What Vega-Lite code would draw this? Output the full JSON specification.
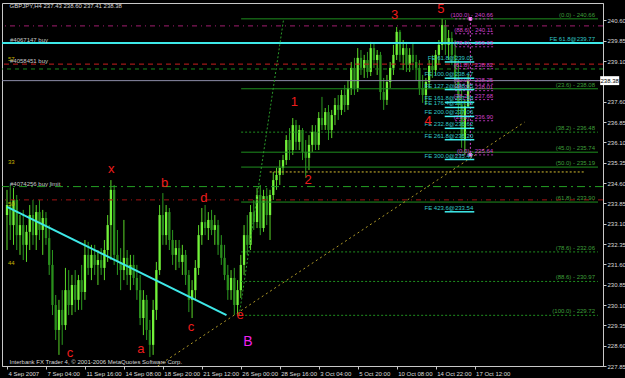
{
  "$schema": "https://vega.github.io/schema/vega-lite/v6.json",
  "width": 601,
  "height": 363,
  "autosize": {"type": "none"},
  "padding": {"left": 2, "top": 3, "right": 22, "bottom": 12},
  "background": "#000000",
  "config": {
    "view": {"stroke": "#c8c8c8", "strokeWidth": 1},
    "font": "Liberation Sans, sans-serif"
  },
  "datasets": {
    "candles": [
      {"i":0,"o":233.42,"h":234.35,"l":232.13,"c":233.79},
      {"i":1,"o":233.79,"h":234.53,"l":232.50,"c":233.05},
      {"i":2,"o":233.05,"h":234.42,"l":232.32,"c":233.98},
      {"i":3,"o":233.98,"h":234.16,"l":232.13,"c":232.68},
      {"i":4,"o":232.68,"h":233.42,"l":231.95,"c":233.05},
      {"i":5,"o":233.05,"h":233.61,"l":231.76,"c":232.32},
      {"i":6,"o":232.32,"h":233.05,"l":231.69,"c":232.80},
      {"i":7,"o":232.80,"h":233.79,"l":232.13,"c":233.42},
      {"i":8,"o":233.42,"h":233.98,"l":232.32,"c":232.68},
      {"i":9,"o":232.68,"h":233.79,"l":232.13,"c":233.53},
      {"i":10,"o":233.53,"h":233.98,"l":232.50,"c":232.87},
      {"i":11,"o":232.87,"h":233.61,"l":231.95,"c":233.31},
      {"i":12,"o":233.31,"h":233.53,"l":232.32,"c":232.57},
      {"i":13,"o":232.57,"h":233.05,"l":231.21,"c":231.58},
      {"i":14,"o":231.58,"h":232.13,"l":229.73,"c":230.10},
      {"i":15,"o":230.10,"h":230.47,"l":228.81,"c":229.18},
      {"i":16,"o":229.18,"h":230.29,"l":228.26,"c":229.92},
      {"i":17,"o":229.92,"h":230.65,"l":228.63,"c":229.36},
      {"i":18,"o":229.36,"h":231.47,"l":229.18,"c":230.65},
      {"i":19,"o":230.65,"h":231.39,"l":229.73,"c":230.10},
      {"i":20,"o":230.10,"h":231.21,"l":229.73,"c":230.84},
      {"i":21,"o":230.84,"h":231.39,"l":229.84,"c":230.29},
      {"i":22,"o":230.29,"h":231.21,"l":229.92,"c":231.02},
      {"i":23,"o":231.02,"h":231.58,"l":229.92,"c":230.58},
      {"i":24,"o":230.58,"h":232.50,"l":230.29,"c":231.95},
      {"i":25,"o":231.95,"h":232.43,"l":231.21,"c":231.47},
      {"i":26,"o":231.47,"h":232.32,"l":231.02,"c":231.95},
      {"i":27,"o":231.95,"h":232.32,"l":231.21,"c":231.58},
      {"i":28,"o":231.58,"h":232.13,"l":230.84,"c":231.76},
      {"i":29,"o":231.76,"h":232.20,"l":231.21,"c":231.47},
      {"i":30,"o":231.47,"h":232.50,"l":231.02,"c":232.13},
      {"i":31,"o":232.13,"h":233.42,"l":231.69,"c":233.05},
      {"i":32,"o":233.05,"h":234.71,"l":231.76,"c":234.35},
      {"i":33,"o":234.35,"h":234.53,"l":231.58,"c":231.95},
      {"i":34,"o":231.95,"h":232.87,"l":231.21,"c":231.69},
      {"i":35,"o":231.69,"h":232.20,"l":230.65,"c":231.39},
      {"i":36,"o":231.39,"h":233.24,"l":231.02,"c":231.84},
      {"i":37,"o":231.84,"h":232.13,"l":230.84,"c":231.21},
      {"i":38,"o":231.21,"h":231.95,"l":230.65,"c":231.58},
      {"i":39,"o":231.58,"h":231.95,"l":230.84,"c":231.10},
      {"i":40,"o":231.10,"h":231.58,"l":230.29,"c":230.65},
      {"i":41,"o":230.65,"h":231.21,"l":229.36,"c":229.62},
      {"i":42,"o":229.62,"h":230.65,"l":228.99,"c":230.29},
      {"i":43,"o":230.29,"h":230.47,"l":228.81,"c":229.18},
      {"i":44,"o":229.18,"h":229.55,"l":228.18,"c":228.63},
      {"i":45,"o":228.63,"h":230.29,"l":228.26,"c":229.92},
      {"i":46,"o":229.92,"h":231.69,"l":229.55,"c":231.39},
      {"i":47,"o":231.39,"h":233.79,"l":231.21,"c":233.42},
      {"i":48,"o":233.42,"h":234.23,"l":232.32,"c":232.68},
      {"i":49,"o":232.68,"h":233.79,"l":232.32,"c":233.53},
      {"i":50,"o":233.53,"h":233.68,"l":232.13,"c":232.50},
      {"i":51,"o":232.50,"h":232.87,"l":231.58,"c":231.95},
      {"i":52,"o":231.95,"h":232.50,"l":231.39,"c":232.20},
      {"i":53,"o":232.20,"h":232.50,"l":231.47,"c":231.69},
      {"i":54,"o":231.69,"h":232.32,"l":231.21,"c":231.95},
      {"i":55,"o":231.95,"h":232.13,"l":230.84,"c":231.21},
      {"i":56,"o":231.21,"h":231.39,"l":229.84,"c":230.29},
      {"i":57,"o":230.29,"h":231.02,"l":229.62,"c":230.65},
      {"i":58,"o":230.65,"h":231.76,"l":230.29,"c":231.47},
      {"i":59,"o":231.47,"h":233.05,"l":231.21,"c":232.68},
      {"i":60,"o":232.68,"h":233.68,"l":232.32,"c":233.16},
      {"i":61,"o":233.16,"h":233.79,"l":232.68,"c":232.94},
      {"i":62,"o":232.94,"h":233.53,"l":232.50,"c":233.24},
      {"i":63,"o":233.24,"h":233.61,"l":232.68,"c":232.87},
      {"i":64,"o":232.87,"h":233.42,"l":232.32,"c":233.05},
      {"i":65,"o":233.05,"h":233.24,"l":231.95,"c":232.32},
      {"i":66,"o":232.32,"h":232.68,"l":231.58,"c":231.84},
      {"i":67,"o":231.84,"h":232.32,"l":231.02,"c":231.21},
      {"i":68,"o":231.21,"h":231.58,"l":230.29,"c":230.65},
      {"i":69,"o":230.65,"h":231.39,"l":230.29,"c":231.10},
      {"i":70,"o":231.10,"h":231.47,"l":229.73,"c":230.10},
      {"i":71,"o":230.10,"h":231.02,"l":229.70,"c":230.65},
      {"i":72,"o":230.65,"h":231.95,"l":230.36,"c":231.58},
      {"i":73,"o":231.58,"h":233.05,"l":231.21,"c":232.68},
      {"i":74,"o":232.68,"h":233.42,"l":231.95,"c":232.32},
      {"i":75,"o":232.32,"h":233.79,"l":232.13,"c":233.53},
      {"i":76,"o":233.53,"h":233.98,"l":232.87,"c":233.16},
      {"i":77,"o":233.16,"h":234.42,"l":232.94,"c":234.16},
      {"i":78,"o":234.16,"h":234.53,"l":232.68,"c":232.94},
      {"i":79,"o":232.94,"h":234.35,"l":232.80,"c":234.12},
      {"i":80,"o":234.12,"h":234.42,"l":233.05,"c":233.42},
      {"i":81,"o":233.42,"h":234.35,"l":232.50,"c":234.16},
      {"i":82,"o":234.16,"h":235.01,"l":233.98,"c":234.71},
      {"i":83,"o":234.71,"h":235.16,"l":234.35,"c":234.90},
      {"i":84,"o":234.90,"h":235.45,"l":234.53,"c":235.16},
      {"i":85,"o":235.16,"h":235.64,"l":234.90,"c":235.45},
      {"i":86,"o":235.45,"h":236.37,"l":235.27,"c":236.19},
      {"i":87,"o":236.19,"h":236.63,"l":235.45,"c":235.82},
      {"i":88,"o":235.82,"h":237.00,"l":235.64,"c":236.74},
      {"i":89,"o":236.74,"h":236.93,"l":235.82,"c":236.12},
      {"i":90,"o":236.12,"h":236.74,"l":235.82,"c":236.56},
      {"i":91,"o":236.56,"h":236.63,"l":235.45,"c":235.75},
      {"i":92,"o":235.75,"h":236.19,"l":234.79,"c":235.53},
      {"i":93,"o":235.53,"h":236.37,"l":235.08,"c":236.01},
      {"i":94,"o":236.01,"h":236.74,"l":235.75,"c":236.49},
      {"i":95,"o":236.49,"h":236.74,"l":235.82,"c":236.01},
      {"i":96,"o":236.01,"h":237.22,"l":235.82,"c":237.00},
      {"i":97,"o":237.00,"h":237.78,"l":236.56,"c":236.74},
      {"i":98,"o":236.74,"h":237.37,"l":236.56,"c":237.22},
      {"i":99,"o":237.22,"h":237.48,"l":236.19,"c":236.56},
      {"i":100,"o":236.56,"h":237.30,"l":236.26,"c":237.11},
      {"i":101,"o":237.11,"h":237.74,"l":236.74,"c":237.48},
      {"i":102,"o":237.48,"h":237.85,"l":236.93,"c":237.30},
      {"i":103,"o":237.30,"h":238.04,"l":237.11,"c":237.85},
      {"i":104,"o":237.85,"h":238.22,"l":237.22,"c":237.48},
      {"i":105,"o":237.48,"h":238.40,"l":237.30,"c":238.11},
      {"i":106,"o":238.11,"h":239.07,"l":237.85,"c":238.85},
      {"i":107,"o":238.85,"h":239.22,"l":237.85,"c":238.11},
      {"i":108,"o":238.11,"h":239.58,"l":237.96,"c":239.22},
      {"i":109,"o":239.22,"h":239.51,"l":238.59,"c":238.85},
      {"i":110,"o":238.85,"h":239.33,"l":238.48,"c":239.14},
      {"i":111,"o":239.14,"h":239.44,"l":238.48,"c":238.70},
      {"i":112,"o":238.70,"h":239.81,"l":238.55,"c":239.58},
      {"i":113,"o":239.58,"h":239.77,"l":238.85,"c":239.14},
      {"i":114,"o":239.14,"h":239.51,"l":238.59,"c":239.33},
      {"i":115,"o":239.33,"h":239.44,"l":237.67,"c":237.96},
      {"i":116,"o":237.96,"h":238.48,"l":237.30,"c":237.67},
      {"i":117,"o":237.67,"h":238.59,"l":237.48,"c":238.33},
      {"i":118,"o":238.33,"h":239.07,"l":238.11,"c":238.85},
      {"i":119,"o":238.85,"h":239.70,"l":238.59,"c":239.33},
      {"i":120,"o":239.33,"h":240.36,"l":239.14,"c":240.18},
      {"i":121,"o":240.18,"h":240.25,"l":239.07,"c":239.33},
      {"i":122,"o":239.33,"h":239.88,"l":238.77,"c":239.58},
      {"i":123,"o":239.58,"h":239.81,"l":238.70,"c":238.96},
      {"i":124,"o":238.96,"h":239.58,"l":238.70,"c":239.33},
      {"i":125,"o":239.33,"h":239.77,"l":238.77,"c":239.07},
      {"i":126,"o":239.07,"h":239.33,"l":238.40,"c":238.85},
      {"i":127,"o":238.85,"h":239.14,"l":237.85,"c":238.11},
      {"i":128,"o":238.11,"h":238.59,"l":237.56,"c":237.85},
      {"i":129,"o":237.85,"h":238.48,"l":237.48,"c":238.33},
      {"i":130,"o":238.33,"h":239.14,"l":238.11,"c":238.92},
      {"i":131,"o":238.92,"h":239.33,"l":238.48,"c":238.77},
      {"i":132,"o":238.77,"h":239.51,"l":238.59,"c":239.33},
      {"i":133,"o":239.33,"h":239.88,"l":238.96,"c":239.70},
      {"i":134,"o":239.70,"h":240.66,"l":239.51,"c":240.43},
      {"i":135,"o":240.43,"h":240.62,"l":239.33,"c":239.70},
      {"i":136,"o":239.70,"h":240.25,"l":239.14,"c":239.95},
      {"i":137,"o":239.95,"h":240.18,"l":238.96,"c":239.33},
      {"i":138,"o":239.33,"h":239.88,"l":238.04,"c":238.40},
      {"i":139,"o":238.40,"h":239.14,"l":237.11,"c":237.48},
      {"i":140,"o":237.48,"h":238.04,"l":235.90,"c":236.19},
      {"i":141,"o":236.19,"h":237.67,"l":235.64,"c":237.43},
      {"i":142,"o":237.43,"h":238.60,"l":237.41,"c":238.38}
    ],
    "levels": [
      {"p":240.40,"k":"mag"},
      {"p":239.77,"k":"cyan"},
      {"p":238.99,"k":"red"},
      {"p":238.81,"k":"grn"},
      {"p":238.38,"k":"bid"},
      {"p":234.47,"k":"grndd"},
      {"p":233.98,"k":"red2"}
    ],
    "fibo": [
      {"p":240.66,"t":"(0.0) - 240.66","d":"s"},
      {"p":238.08,"t":"(23.6) - 238.08","d":"s"},
      {"p":236.48,"t":"(38.2) - 236.48","d":"d"},
      {"p":235.74,"t":"(45.0) - 235.74","d":"s"},
      {"p":235.19,"t":"(50.0) - 235.19","d":"s"},
      {"p":233.90,"t":"(61.8) - 233.90","d":"s"},
      {"p":232.06,"t":"(78.6) - 232.06","d":"d"},
      {"p":230.97,"t":"(88.6) - 230.97","d":"d"},
      {"p":229.72,"t":"(100.0) - 229.72","d":"d"}
    ],
    "fe": [
      {"p":239.07,"t":"FE 61.8@239.05"},
      {"p":238.47,"t":"FE 100.0@238.47"},
      {"p":238.05,"t":"FE 127.2@238.05"},
      {"p":237.58,"t":"FE 161.8@237.58"},
      {"p":237.39,"t":"FE 176.4@237.39"},
      {"p":237.06,"t":"FE 200.0@237.06"},
      {"p":236.62,"t":"FE 232.8@236.62"},
      {"p":236.20,"t":"FE 261.8@236.20"},
      {"p":235.47,"t":"FE 300.0@235.47"},
      {"p":233.54,"t":"FE 423.6@233.54"}
    ],
    "magfib": [
      {"p":240.66,"t":"(100.0) - 240.66"},
      {"p":240.11,"t":"(88.6) - 240.11"},
      {"p":239.63,"t":"(78.6) - 239.63"},
      {"p":238.82,"t":"(61.8) - 238.82"},
      {"p":238.25,"t":"(50.0) - 238.25"},
      {"p":238.01,"t":"(45.0) - 238.01"},
      {"p":237.68,"t":"(38.2) - 237.68"},
      {"p":236.90,"t":"(23.6) - 236.90"},
      {"p":235.64,"t":"(0.0) - 235.64"}
    ],
    "diag": [
      {"g":"cy","x":0,"p":233.72},
      {"g":"cy","x":67.6,"p":229.73},
      {"g":"yl","x":46.4,"p":227.85},
      {"g":"yl","x":159.4,"p":236.85},
      {"g":"fg","x":71.5,"p":229.72},
      {"g":"fg","x":85.2,"p":240.66},
      {"g":"yh","x":80.9,"p":235.01},
      {"g":"yh","x":177.6,"p":235.01},
      {"g":"mv","x":142.7,"p":240.66},
      {"g":"mv","x":142.7,"p":235.64}
    ],
    "orders": [
      {"p":239.77,"t":"#4067147 buy"},
      {"p":238.99,"t":"#4058451 buy"},
      {"p":234.47,"t":"#4074256 buy limit"}
    ],
    "tags": [
      {"p":239.07,"t":"57"},
      {"p":235.27,"t":"33"},
      {"p":233.72,"t":"50"},
      {"p":231.54,"t":"44"}
    ],
    "waves": [
      {"x":32.1,"p":235.12,"t":"x"},
      {"x":48.5,"p":234.60,"t":"b"},
      {"x":60.6,"p":234.05,"t":"d"},
      {"x":19.4,"p":228.33,"t":"c"},
      {"x":41.2,"p":228.48,"t":"a"},
      {"x":56.7,"p":229.29,"t":"c"},
      {"x":71.8,"p":229.73,"t":"e"},
      {"x":88.5,"p":237.59,"t":"1"},
      {"x":92.7,"p":234.71,"t":"2"},
      {"x":119.4,"p":240.80,"t":"3"},
      {"x":129.7,"p":236.89,"t":"4"},
      {"x":133.6,"p":241.02,"t":"5"}
    ],
    "wavesB": [{"x":74.2,"p":228.74,"t":"B"}],
    "notes": [
      {"x":0.8,"p":241.12,"t":"GBPJPY,H4  237.43 238.60 237.41 238.38"},
      {"x":0.8,"p":228.0,"t":"Interbank FX Trader 4, © 2001-2006 MetaQuotes Software Corp."}
    ],
    "last": [{"p":238.38,"t":"238.38"}]
  },
  "layer": [
    {
      "data": {"name": "candles"},
      "mark": {"type": "rule", "strokeWidth": 1},
      "encoding": {
        "x": {"field": "i", "type": "quantitative", "scale": {"domain": [0, 182], "nice": false, "zero": false},
          "axis": {"values": [0,12,24,36,48,60,72,84,96,108,120,132,144], "tickCount": 40, "title": null, "grid": false,
            "labelExpr": "['4 Sep 2007','7 Sep 04:00','11 Sep 16:00','14 Sep 08:00','18 Sep 20:00','21 Sep 12:00','26 Sep 00:00','28 Sep 16:00','3 Oct 04:00','5 Oct 20:00','10 Oct 08:00','14 Oct 22:00','17 Oct 12:00'][round(datum.value/12)]",
            "labelAlign": "left", "labelBaseline": "top", "labelPadding": 1, "labelOffset": 1, "tickSize": 3,
            "tickColor": "#c8c8c8", "domainColor": "#c8c8c8", "labelColor": "#dcdcdc",
            "labelFontSize": 6, "labelOverlap": false, "labelFlush": false, "labelBound": false}},
        "y": {"field": "l", "type": "quantitative", "scale": {"domain": [227.85, 241.245], "nice": false, "zero": false},
          "axis": {"orient": "right", "values": [227.85,228.6,229.35,230.1,230.85,231.6,232.35,233.1,233.85,234.6,235.35,236.1,236.85,237.6,239.1,239.85,240.6],
            "tickCount": 40, "format": ".2f", "title": null, "grid": false, "tickSize": 3, "labelPadding": 1,
            "tickColor": "#c8c8c8", "domainColor": "#c8c8c8", "labelColor": "#dcdcdc",
            "labelFontSize": 6, "labelOverlap": false, "labelFlush": false, "labelBound": false}},
        "y2": {"field": "h"},
        "color": {"condition": {"test": "datum.c >= datum.o", "value": "#5ad628"}, "value": "#2c9a20"}
      }
    },
    {
      "data": {"name": "candles"},
      "mark": {"type": "bar", "width": 2.3},
      "encoding": {
        "x": {"field": "i", "type": "quantitative", "scale": {"domain": [0, 182], "nice": false, "zero": false}},
        "y": {"field": "o", "type": "quantitative", "scale": {"domain": [227.85, 241.245], "nice": false, "zero": false}},
        "y2": {"field": "c"},
        "color": {"condition": {"test": "datum.c >= datum.o", "value": "#72f23a"}, "value": "#2a8f1c"}
      }
    },
    {
      "data": {"name": "fibo"},
      "transform": [{"filter": "datum.d == 's'"}],
      "mark": {"type": "rule", "color": "#1f8f1f", "strokeWidth": 1},
      "encoding": {
        "x": {"datum": 72.1, "type": "quantitative", "scale": {"domain": [0, 182], "nice": false, "zero": false}},
        "x2": {"datum": 182},
        "y": {"field": "p", "type": "quantitative", "scale": {"domain": [227.85, 241.245], "nice": false, "zero": false}}
      }
    },
    {
      "data": {"name": "fibo"},
      "transform": [{"filter": "datum.d == 'd'"}],
      "mark": {"type": "rule", "color": "#1f8f1f", "strokeWidth": 1, "strokeDash": [2, 2]},
      "encoding": {
        "x": {"datum": 72.1, "type": "quantitative", "scale": {"domain": [0, 182], "nice": false, "zero": false}},
        "x2": {"datum": 182},
        "y": {"field": "p", "type": "quantitative", "scale": {"domain": [227.85, 241.245], "nice": false, "zero": false}}
      }
    },
    {
      "data": {"name": "fibo"},
      "mark": {"type": "text", "align": "right", "baseline": "bottom", "dx": -3, "dy": -1, "fontSize": 6, "color": "#3f9f3a"},
      "encoding": {
        "x": {"datum": 182, "type": "quantitative", "scale": {"domain": [0, 182], "nice": false, "zero": false}},
        "y": {"field": "p", "type": "quantitative", "scale": {"domain": [227.85, 241.245], "nice": false, "zero": false}},
        "text": {"field": "t"}
      }
    },
    {
      "data": {"name": "levels"},
      "transform": [{"filter": "datum.k == 'mag'"}],
      "mark": {"type": "rule", "color": "#a01c6e", "strokeWidth": 1, "strokeDash": [5, 4, 1, 4]},
      "encoding": {"y": {"field": "p", "type": "quantitative", "scale": {"domain": [227.85, 241.245], "nice": false, "zero": false}}}
    },
    {
      "data": {"name": "levels"},
      "transform": [{"filter": "datum.k == 'red'"}],
      "mark": {"type": "rule", "color": "#c81e1e", "strokeWidth": 1, "strokeDash": [5, 4]},
      "encoding": {"y": {"field": "p", "type": "quantitative", "scale": {"domain": [227.85, 241.245], "nice": false, "zero": false}}}
    },
    {
      "data": {"name": "levels"},
      "transform": [{"filter": "datum.k == 'grn'"}],
      "mark": {"type": "rule", "color": "#1c861c", "strokeWidth": 1, "strokeDash": [4, 4]},
      "encoding": {"y": {"field": "p", "type": "quantitative", "scale": {"domain": [227.85, 241.245], "nice": false, "zero": false}}}
    },
    {
      "data": {"name": "levels"},
      "transform": [{"filter": "datum.k == 'grndd'"}],
      "mark": {"type": "rule", "color": "#24a024", "strokeWidth": 1, "strokeDash": [8, 4, 2, 4]},
      "encoding": {"y": {"field": "p", "type": "quantitative", "scale": {"domain": [227.85, 241.245], "nice": false, "zero": false}}}
    },
    {
      "data": {"name": "levels"},
      "transform": [{"filter": "datum.k == 'red2'"}],
      "mark": {"type": "rule", "color": "#a01414", "strokeWidth": 1, "strokeDash": [5, 4, 1, 4]},
      "encoding": {"y": {"field": "p", "type": "quantitative", "scale": {"domain": [227.85, 241.245], "nice": false, "zero": false}}}
    },
    {
      "data": {"name": "levels"},
      "transform": [{"filter": "datum.k == 'bid'"}],
      "mark": {"type": "rule", "color": "#8c8ca8", "strokeWidth": 1},
      "encoding": {"y": {"field": "p", "type": "quantitative", "scale": {"domain": [227.85, 241.245], "nice": false, "zero": false}}}
    },
    {
      "data": {"name": "levels"},
      "transform": [{"filter": "datum.k == 'cyan'"}],
      "mark": {"type": "rule", "color": "#3ee8e8", "strokeWidth": 2},
      "encoding": {"y": {"field": "p", "type": "quantitative", "scale": {"domain": [227.85, 241.245], "nice": false, "zero": false}}}
    },
    {
      "data": {"name": "diag"},
      "transform": [{"filter": "datum.g == 'cy'"}],
      "mark": {"type": "line", "color": "#3ee8e8", "strokeWidth": 2},
      "encoding": {
        "x": {"field": "x", "type": "quantitative", "scale": {"domain": [0, 182], "nice": false, "zero": false}},
        "y": {"field": "p", "type": "quantitative", "scale": {"domain": [227.85, 241.245], "nice": false, "zero": false}}
      }
    },
    {
      "data": {"name": "diag"},
      "transform": [{"filter": "datum.g == 'yl'"}],
      "mark": {"type": "line", "color": "#b09a28", "strokeWidth": 1, "strokeDash": [2, 3]},
      "encoding": {
        "x": {"field": "x", "type": "quantitative", "scale": {"domain": [0, 182], "nice": false, "zero": false}},
        "y": {"field": "p", "type": "quantitative", "scale": {"domain": [227.85, 241.245], "nice": false, "zero": false}}
      }
    },
    {
      "data": {"name": "diag"},
      "transform": [{"filter": "datum.g == 'yh'"}],
      "mark": {"type": "line", "color": "#d8c030", "strokeWidth": 1, "strokeDash": [2, 2]},
      "encoding": {
        "x": {"field": "x", "type": "quantitative", "scale": {"domain": [0, 182], "nice": false, "zero": false}},
        "y": {"field": "p", "type": "quantitative", "scale": {"domain": [227.85, 241.245], "nice": false, "zero": false}}
      }
    },
    {
      "data": {"name": "diag"},
      "transform": [{"filter": "datum.g == 'fg'"}],
      "mark": {"type": "line", "color": "#2a9a2a", "strokeWidth": 1, "strokeDash": [2, 2]},
      "encoding": {
        "x": {"field": "x", "type": "quantitative", "scale": {"domain": [0, 182], "nice": false, "zero": false}},
        "y": {"field": "p", "type": "quantitative", "scale": {"domain": [227.85, 241.245], "nice": false, "zero": false}}
      }
    },
    {
      "data": {"name": "diag"},
      "transform": [{"filter": "datum.g == 'mv'"}],
      "mark": {"type": "line", "color": "#cc44cc", "strokeWidth": 1, "strokeDash": [2, 2]},
      "encoding": {
        "x": {"field": "x", "type": "quantitative", "scale": {"domain": [0, 182], "nice": false, "zero": false}},
        "y": {"field": "p", "type": "quantitative", "scale": {"domain": [227.85, 241.245], "nice": false, "zero": false}}
      }
    },
    {
      "data": {"name": "diag"},
      "transform": [{"filter": "datum.g == 'mv'"}],
      "mark": {"type": "point", "shape": "square", "filled": true, "size": 12, "color": "#ff88ff", "opacity": 1},
      "encoding": {
        "x": {"field": "x", "type": "quantitative", "scale": {"domain": [0, 182], "nice": false, "zero": false}},
        "y": {"field": "p", "type": "quantitative", "scale": {"domain": [227.85, 241.245], "nice": false, "zero": false}}
      }
    },
    {
      "data": {"name": "magfib"},
      "mark": {"type": "rule", "color": "#b030b0", "strokeWidth": 1, "strokeDash": [2, 2]},
      "encoding": {
        "x": {"datum": 138, "type": "quantitative", "scale": {"domain": [0, 182], "nice": false, "zero": false}},
        "x2": {"datum": 149.7},
        "y": {"field": "p", "type": "quantitative", "scale": {"domain": [227.85, 241.245], "nice": false, "zero": false}}
      }
    },
    {
      "data": {"name": "magfib"},
      "mark": {"type": "text", "align": "right", "baseline": "bottom", "dy": -1, "fontSize": 6, "color": "#d040d0"},
      "encoding": {
        "x": {"datum": 149.7, "type": "quantitative", "scale": {"domain": [0, 182], "nice": false, "zero": false}},
        "y": {"field": "p", "type": "quantitative", "scale": {"domain": [227.85, 241.245], "nice": false, "zero": false}},
        "text": {"field": "t"}
      }
    },
    {
      "data": {"name": "fe"},
      "mark": {"type": "rule", "color": "#40f0f0", "strokeWidth": 1.5},
      "encoding": {
        "x": {"datum": 134.8, "type": "quantitative", "scale": {"domain": [0, 182], "nice": false, "zero": false}},
        "x2": {"datum": 143.9},
        "y": {"field": "p", "type": "quantitative", "scale": {"domain": [227.85, 241.245], "nice": false, "zero": false}}
      }
    },
    {
      "data": {"name": "fe"},
      "mark": {"type": "text", "align": "right", "baseline": "bottom", "dx": -1, "dy": -1, "fontSize": 6, "color": "#30c8c8"},
      "encoding": {
        "x": {"datum": 143.9, "type": "quantitative", "scale": {"domain": [0, 182], "nice": false, "zero": false}},
        "y": {"field": "p", "type": "quantitative", "scale": {"domain": [227.85, 241.245], "nice": false, "zero": false}},
        "text": {"field": "t"}
      }
    },
    {
      "data": {"name": "levels"},
      "transform": [{"filter": "datum.k == 'cyan'"}],
      "mark": {"type": "text", "align": "right", "baseline": "bottom", "dx": -3, "dy": -1, "fontSize": 6, "color": "#30c8c8"},
      "encoding": {
        "x": {"datum": 182, "type": "quantitative", "scale": {"domain": [0, 182], "nice": false, "zero": false}},
        "y": {"field": "p", "type": "quantitative", "scale": {"domain": [227.85, 241.245], "nice": false, "zero": false}},
        "text": {"value": "FE 61.8@239.77"}
      }
    },
    {
      "data": {"name": "orders"},
      "mark": {"type": "text", "align": "left", "baseline": "bottom", "dx": 3, "dy": 0, "fontSize": 6, "color": "#c8c8c8"},
      "encoding": {
        "x": {"datum": 0, "type": "quantitative", "scale": {"domain": [0, 182], "nice": false, "zero": false}},
        "y": {"field": "p", "type": "quantitative", "scale": {"domain": [227.85, 241.245], "nice": false, "zero": false}},
        "text": {"field": "t"}
      }
    },
    {
      "data": {"name": "tags"},
      "mark": {"type": "text", "align": "left", "baseline": "bottom", "dx": 1, "fontSize": 6, "color": "#c8b400"},
      "encoding": {
        "x": {"datum": 0, "type": "quantitative", "scale": {"domain": [0, 182], "nice": false, "zero": false}},
        "y": {"field": "p", "type": "quantitative", "scale": {"domain": [227.85, 241.245], "nice": false, "zero": false}},
        "text": {"field": "t"}
      }
    },
    {
      "data": {"name": "waves"},
      "mark": {"type": "text", "align": "center", "baseline": "middle", "fontSize": 13, "color": "#ee1c1c"},
      "encoding": {
        "x": {"field": "x", "type": "quantitative", "scale": {"domain": [0, 182], "nice": false, "zero": false}},
        "y": {"field": "p", "type": "quantitative", "scale": {"domain": [227.85, 241.245], "nice": false, "zero": false}},
        "text": {"field": "t"}
      }
    },
    {
      "data": {"name": "wavesB"},
      "mark": {"type": "text", "align": "center", "baseline": "middle", "fontSize": 14, "color": "#ee22ee"},
      "encoding": {
        "x": {"field": "x", "type": "quantitative", "scale": {"domain": [0, 182], "nice": false, "zero": false}},
        "y": {"field": "p", "type": "quantitative", "scale": {"domain": [227.85, 241.245], "nice": false, "zero": false}},
        "text": {"field": "t"}
      }
    },
    {
      "data": {"name": "notes"},
      "mark": {"type": "text", "align": "left", "baseline": "middle", "fontSize": 6, "color": "#d8d8d8"},
      "encoding": {
        "x": {"field": "x", "type": "quantitative", "scale": {"domain": [0, 182], "nice": false, "zero": false}},
        "y": {"field": "p", "type": "quantitative", "scale": {"domain": [227.85, 241.245], "nice": false, "zero": false}},
        "text": {"field": "t"}
      }
    },
    {
      "data": {"name": "last"},
      "mark": {"type": "point", "shape": "M-1,-0.47L1,-0.47L1,0.47L-1,0.47Z", "filled": true, "size": 361, "color": "#ffffff", "opacity": 1},
      "encoding": {
        "x": {"datum": 185.6, "type": "quantitative", "scale": {"domain": [0, 182], "nice": false, "zero": false}},
        "y": {"field": "p", "type": "quantitative", "scale": {"domain": [227.85, 241.245], "nice": false, "zero": false}}
      }
    },
    {
      "data": {"name": "last"},
      "mark": {"type": "text", "align": "center", "baseline": "middle", "fontSize": 6, "color": "#000000"},
      "encoding": {
        "x": {"datum": 185.6, "type": "quantitative", "scale": {"domain": [0, 182], "nice": false, "zero": false}},
        "y": {"field": "p", "type": "quantitative", "scale": {"domain": [227.85, 241.245], "nice": false, "zero": false}},
        "text": {"field": "t"}
      }
    }
  ]
}
